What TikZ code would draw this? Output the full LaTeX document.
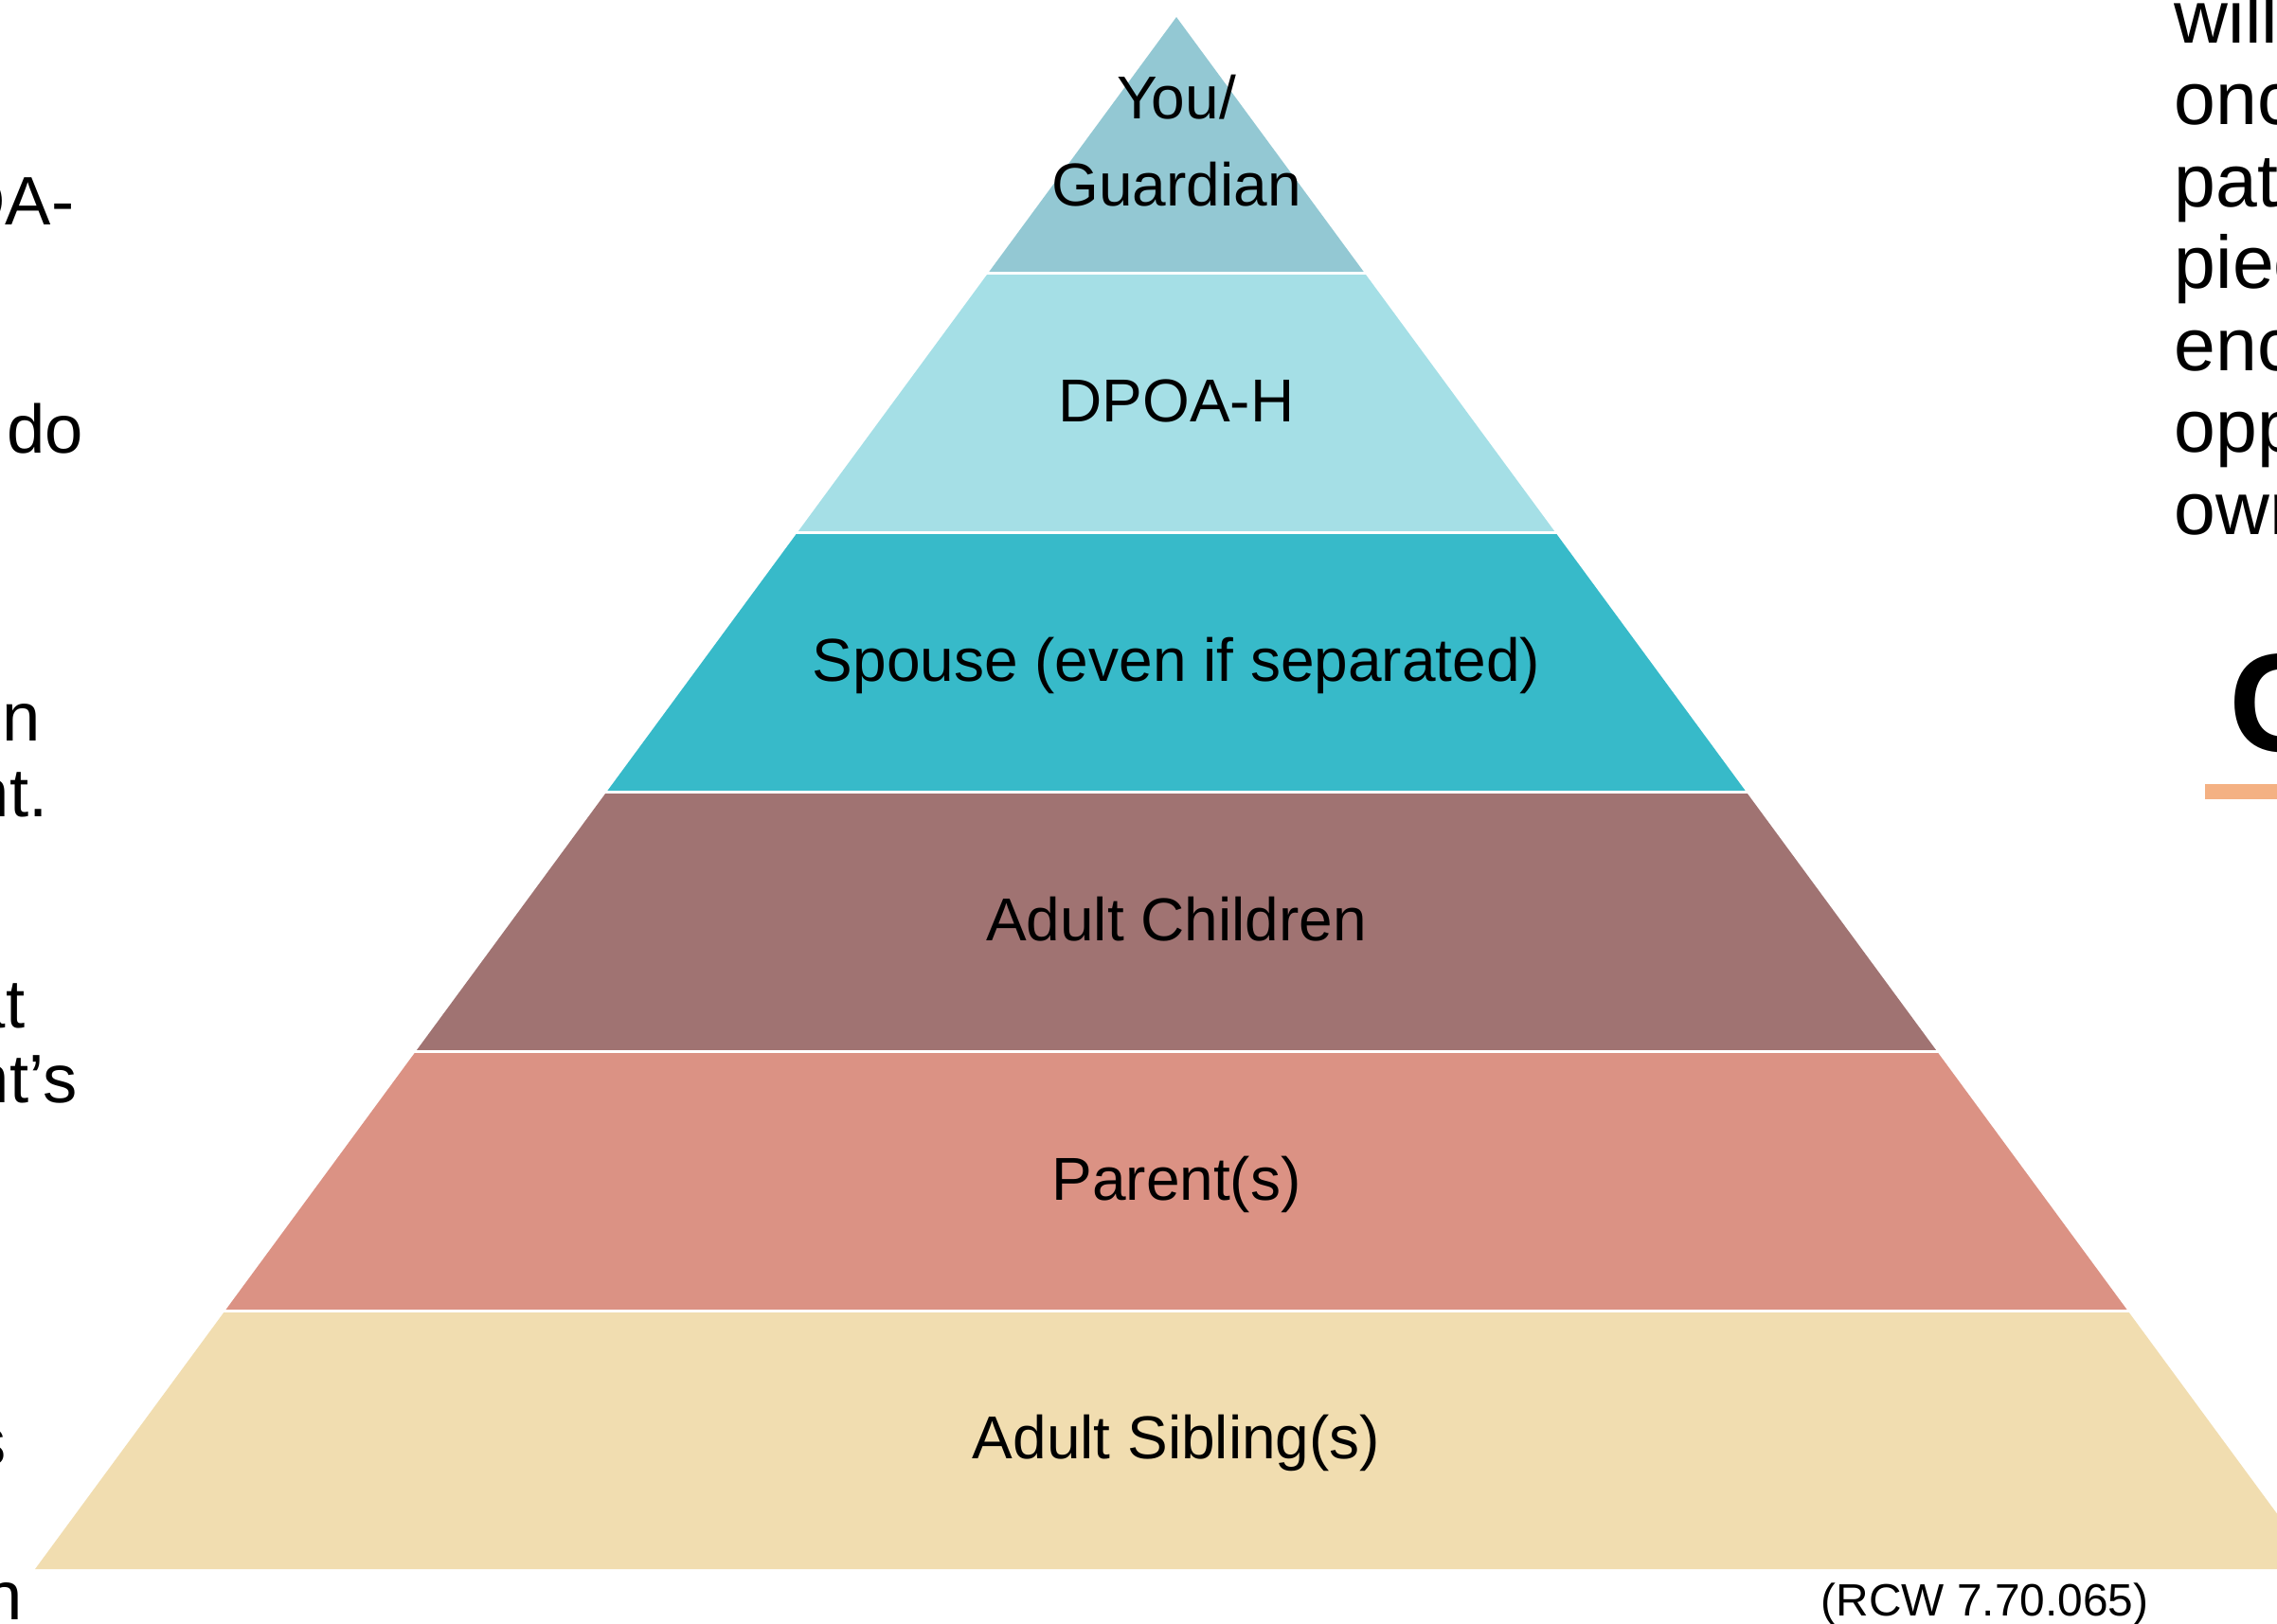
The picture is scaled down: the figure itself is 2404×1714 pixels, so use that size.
\documentclass[tikz,border=0pt]{standalone}
\usepackage{fontspec}
\setmainfont{Liberation Sans}
\definecolor{guardcol}{HTML}{93C8D3}
\definecolor{dpoacol}{HTML}{A5DFE6}
\definecolor{spousecol}{HTML}{37BAC9}
\definecolor{childcol}{HTML}{A07372}
\definecolor{parentcol}{HTML}{DB9284}
\definecolor{siblingcol}{HTML}{F1DDB0}
\definecolor{barcol}{HTML}{F4B183}
\begin{document}
\begin{tikzpicture}[x=0.01cm, y=-0.01cm, line join=round, line cap=butt,
		font=\fontsize{18.2}{22}\selectfont,
		tier/.style={inner sep=0pt, anchor=base},
		cutleft/.style={inner sep=0pt, anchor=base east, font=\fontsize{20.6}{24}\selectfont},
		cutright/.style={inner sep=0pt, anchor=base west, font=\fontsize{22.4}{26}\selectfont}]
	\useasboundingbox (0,0) rectangle (2404,1714);
	\clip (0,0) rectangle (2404,1714);
	% bands of the pyramid, apex at (1242,18)
	\foreach \t/\b/\c in {18/288/guardcol, 288/562/dpoacol, 562/836/spousecol, 836/1110/childcol, 1110/1384/parentcol, 1384/1657/siblingcol}
		\fill[\c] ({1242-0.7352*(\t-18)},\t) -- ({1242+0.7352*(\t-18)},\t)
			-- ({1242+0.7352*(\b-18)},\b) -- ({1242-0.7352*(\b-18)},\b) -- cycle;
	\foreach \y in {288,562,836,1110,1384}
		\draw[white, line width=0.03cm] ({1242-0.7352*(\y-18)-5},\y) -- ({1242+0.7352*(\y-18)+5},\y);
	% labels
	\node[tier] (you) at (1242,125) {You/};
	\node[tier] (guardian) at (1242,217) {Guardian};
	\node[tier] (dpoa) at (1242,445) {DPOA-H};
	\node[tier] (spouse) at (1242,719) {Spouse (even if separated)};
	\node[tier] (children) at (1242,993) {Adult Children};
	\node[tier] (parents) at (1242,1267) {Parent(s)};
	\node[tier] (siblings) at (1242,1540) {Adult Sibling(s)};
	\node[inner sep=0pt, anchor=base west, font=\fontsize{13.6}{16}\selectfont] (rcw) at (1922,1706) {(RCW 7.70.065)};
	% text cut off at the left edge
	\node[cutleft] (l1) at (79,237) {OA-};
	\node[cutleft, anchor=base west] (l2) at (7,478) {do};
	\node[cutleft] (l3) at (44,782) {on};
	\node[cutleft] (l4) at (51,862) {nt.};
	\node[cutleft] (l5) at (27,1085) {at};
	\node[cutleft] (l6) at (82,1164) {nt’s};
	\node[cutleft] (l7) at (7,1547) {s};
	\node[cutleft] (l8) at (24,1710) {n};
	% text cut off at the right edge
	\foreach \w [count=\i from 0] in {will, once, pati, piec, enco, oppo, own}
		\node[cutright] (r\i) at (2295,{45+86.5*\i}) {\w};
	\node[inner sep=0pt, anchor=base west, font=\fontsize{42}{48}\selectfont\bfseries] (head) at (2353,793) {C};
	\fill[barcol] (2328,828) rectangle (2420,844);
\end{tikzpicture}
\end{document}
